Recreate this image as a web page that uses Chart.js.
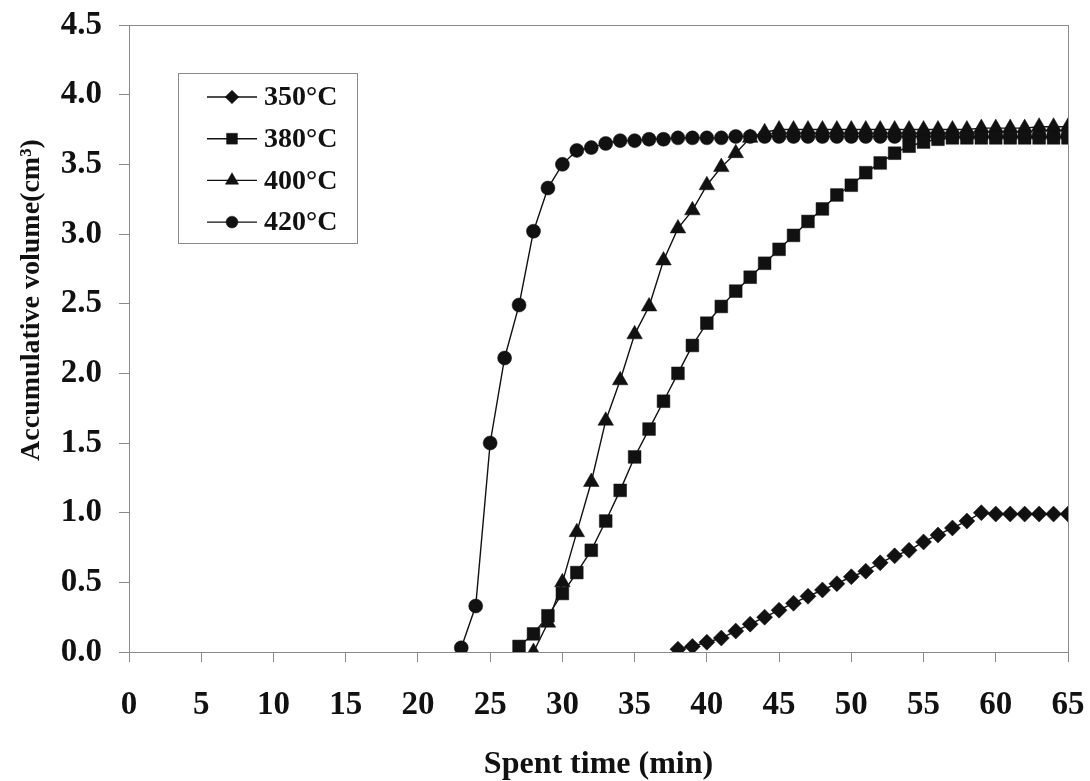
<!DOCTYPE html>
<html>
<head>
<meta charset="utf-8">
<title>Accumulative volume vs spent time</title>
<script src="https://cdn.jsdelivr.net/npm/chart.js@4.4.1/dist/chart.umd.min.js"></script>
<style>
  html, body { margin: 0; padding: 0; background: #fff; }
  #wrap { width: 1090px; height: 781px; position: relative; }
</style>
</head>
<body>
<div id="wrap"><canvas id="myChart"></canvas></div>
<script>
// Spent time (min) and accumulative volume (cm3) per temperature
const labels = ["350°C", "380°C", "400°C", "420°C"];

const time350 = [38, 39, 40, 41, 42, 43, 44, 45, 46, 47, 48, 49, 50, 51, 52, 53, 54, 55, 56, 57, 58, 59, 60, 61, 62, 63, 64, 65];
const vol350 = [0.02, 0.04, 0.07, 0.10, 0.15, 0.20, 0.25, 0.30, 0.35, 0.40, 0.445, 0.49, 0.54, 0.58, 0.64, 0.69, 0.73, 0.79, 0.84, 0.89, 0.94, 1.00, 0.99, 0.99, 0.99, 0.99, 0.99, 0.99];

const time380 = [27, 28, 29, 30, 31, 32, 33, 34, 35, 36, 37, 38, 39, 40, 41, 42, 43, 44, 45, 46, 47, 48, 49, 50, 51, 52, 53, 54, 55, 56, 57, 58, 59, 60, 61, 62, 63, 64, 65];
const vol380 = [0.04, 0.13, 0.26, 0.42, 0.57, 0.73, 0.94, 1.16, 1.40, 1.60, 1.80, 2.00, 2.20, 2.36, 2.48, 2.59, 2.69, 2.79, 2.89, 2.99, 3.09, 3.18, 3.28, 3.35, 3.44, 3.51, 3.58, 3.63, 3.66, 3.68, 3.69, 3.69, 3.69, 3.69, 3.69, 3.69, 3.69, 3.69, 3.69];

const time400 = [28, 29, 30, 31, 32, 33, 34, 35, 36, 37, 38, 39, 40, 41, 42, 43, 44, 45, 46, 47, 48, 49, 50, 51, 52, 53, 54, 55, 56, 57, 58, 59, 60, 61, 62, 63, 64, 65];
const vol400 = [0.00, 0.21, 0.50, 0.86, 1.22, 1.66, 1.95, 2.28, 2.48, 2.81, 3.04, 3.17, 3.35, 3.48, 3.58, 3.69, 3.73, 3.75, 3.75, 3.75, 3.75, 3.75, 3.75, 3.75, 3.75, 3.75, 3.75, 3.75, 3.75, 3.75, 3.75, 3.76, 3.76, 3.76, 3.76, 3.77, 3.77, 3.77];

const time420 = [23, 24, 25, 26, 27, 28, 29, 30, 31, 32, 33, 34, 35, 36, 37, 38, 39, 40, 41, 42, 43, 44, 45, 46, 47, 48, 49, 50, 51, 52, 53, 54, 55, 56, 57, 58, 59, 60, 61, 62, 63, 64, 65];
const vol420 = [0.03, 0.33, 1.50, 2.11, 2.49, 3.02, 3.33, 3.50, 3.60, 3.62, 3.65, 3.67, 3.67, 3.68, 3.68, 3.69, 3.69, 3.69, 3.69, 3.70, 3.70, 3.70, 3.70, 3.70, 3.70, 3.70, 3.70, 3.70, 3.70, 3.70, 3.70, 3.70, 3.70, 3.70, 3.70, 3.70, 3.70, 3.70, 3.70, 3.70, 3.70, 3.70, 3.70];

const xTicks = [0, 5, 10, 15, 20, 25, 30, 35, 40, 45, 50, 55, 60, 65];
const yTicks = [0, 0.5, 1.0, 1.5, 2.0, 2.5, 3.0, 3.5, 4.0, 4.5];
const yTitle = "Accumulative volume(cm³)";

const serif = "'Liberation Serif', 'Times New Roman', serif";
const ink = "#111";
const axisGray = "#8a8a8a";

function toPoints(xs, ys) {
  return xs.map((x, i) => ({ x: x, y: ys[i] }));
}

function series(label, xs, ys, style, radius) {
  return {
    label: label,
    data: toPoints(xs, ys),
    borderColor: ink,
    backgroundColor: ink,
    borderWidth: 1.4,
    pointStyle: style,
    pointRadius: radius,
    pointBackgroundColor: ink,
    pointBorderColor: ink,
    pointBorderWidth: 0.5,
    tension: 0,
  };
}

// fixed axis size, and no extra room reserved for overhanging end labels
function fixSize(prop, size) {
  return function (scale) {
    scale[prop] = size;
    scale.paddingTop = 0;
    scale.paddingBottom = 0;
    scale.paddingLeft = 0;
    scale.paddingRight = 0;
  };
}

// box around the plotting area
const frame = {
  id: "frame",
  afterDatasetsDraw(chart) {
    const a = chart.chartArea;
    const c = chart.ctx;
    c.save();
    c.strokeStyle = axisGray;
    c.lineWidth = 1;
    c.strokeRect(a.left + 0.5, a.top + 0.5, a.right - a.left, a.bottom - a.top);
    c.restore();
  },
};

// vertical axis title, sitting a bit above the middle of the axis
const sideTitle = {
  id: "sideTitle",
  afterDraw(chart) {
    const a = chart.chartArea;
    const c = chart.ctx;
    c.save();
    c.translate(32, a.top + 275);
    c.rotate(-Math.PI / 2);
    c.fillStyle = ink;
    c.font = "bold 28px " + serif;
    c.textAlign = "center";
    c.textBaseline = "middle";
    c.fillText(yTitle, 0, 0);
    c.restore();
  },
};

// legend box with line + marker samples
const boxLegend = {
  id: "boxLegend",
  afterDraw(chart) {
    const a = chart.chartArea;
    const c = chart.ctx;
    const left = a.left + 49;
    const top = a.top + 48;
    const w = 179;
    const h = 170;
    c.save();
    c.fillStyle = "#fff";
    c.fillRect(left, top, w, h);
    c.strokeStyle = axisGray;
    c.lineWidth = 1;
    c.strokeRect(left + 0.5, top + 0.5, w, h);
    chart.data.datasets.forEach((ds, i) => {
      const y = top + 24 + i * 41.7;
      c.strokeStyle = ink;
      c.lineWidth = 1.4;
      c.beginPath();
      c.moveTo(left + 29, y);
      c.lineTo(left + 79, y);
      c.stroke();
      c.fillStyle = ink;
      c.strokeStyle = ink;
      c.lineWidth = 0.5;
      Chart.helpers.drawPoint(c, { pointStyle: ds.pointStyle, radius: ds.pointRadius * 0.85, rotation: 0, borderWidth: 0.5 }, left + 54, y);
      c.fillStyle = ink;
      c.font = "bold 28px " + serif;
      c.textBaseline = "middle";
      c.textAlign = "left";
      c.fillText(ds.label, left + 86, y + 1);
    });
    c.restore();
  },
};

const ctx = document.getElementById("myChart");

new Chart(ctx, {
  type: "line",
  data: {
    datasets: [
      series(labels[0], time350, vol350, "rectRot", 8),
      series(labels[1], time380, vol380, "rect", 9),
      series(labels[2], time400, vol400, "triangle", 9),
      series(labels[3], time420, vol420, "circle", 7),
    ],
  },
  options: {
    responsive: true,
    maintainAspectRatio: false,
    animation: false,
    layout: {
      padding: { top: 25, right: 22, left: 0, bottom: 0 },
    },
    plugins: {
      legend: { display: false },
      tooltip: { enabled: false },
    },
    scales: {
      x: {
        type: "linear",
        min: 0,
        max: 65,
        afterFit: fixSize("height", 129),
        afterBuildTicks(scale) {
          scale.ticks = xTicks.map((v) => ({ value: v }));
        },
        grid: {
          display: true,
          drawOnChartArea: false,
          drawTicks: true,
          tickLength: 10,
          color: axisGray,
        },
        border: { display: true, color: axisGray, width: 1 },
        ticks: {
          color: ink,
          padding: 24,
          maxRotation: 0,
          font: { family: serif, size: 33, weight: "bold" },
        },
        title: {
          display: true,
          text: "Spent time (min)",
          color: ink,
          padding: { top: 0, bottom: -3 },
          font: { family: serif, size: 32, weight: "bold" },
        },
      },
      y: {
        type: "linear",
        min: 0,
        max: 4.5,
        afterFit: fixSize("width", 129),
        afterBuildTicks(scale) {
          scale.ticks = yTicks.map((v) => ({ value: v }));
        },
        grid: {
          display: true,
          drawOnChartArea: false,
          drawTicks: true,
          tickLength: 10,
          color: axisGray,
        },
        border: { display: true, color: axisGray, width: 1 },
        ticks: {
          color: ink,
          padding: 17,
          callback: (v) => Number(v).toFixed(1),
          font: { family: serif, size: 33, weight: "bold" },
        },
      },
    },
  },
  plugins: [frame, sideTitle, boxLegend],
});
</script>
</body>
</html>
